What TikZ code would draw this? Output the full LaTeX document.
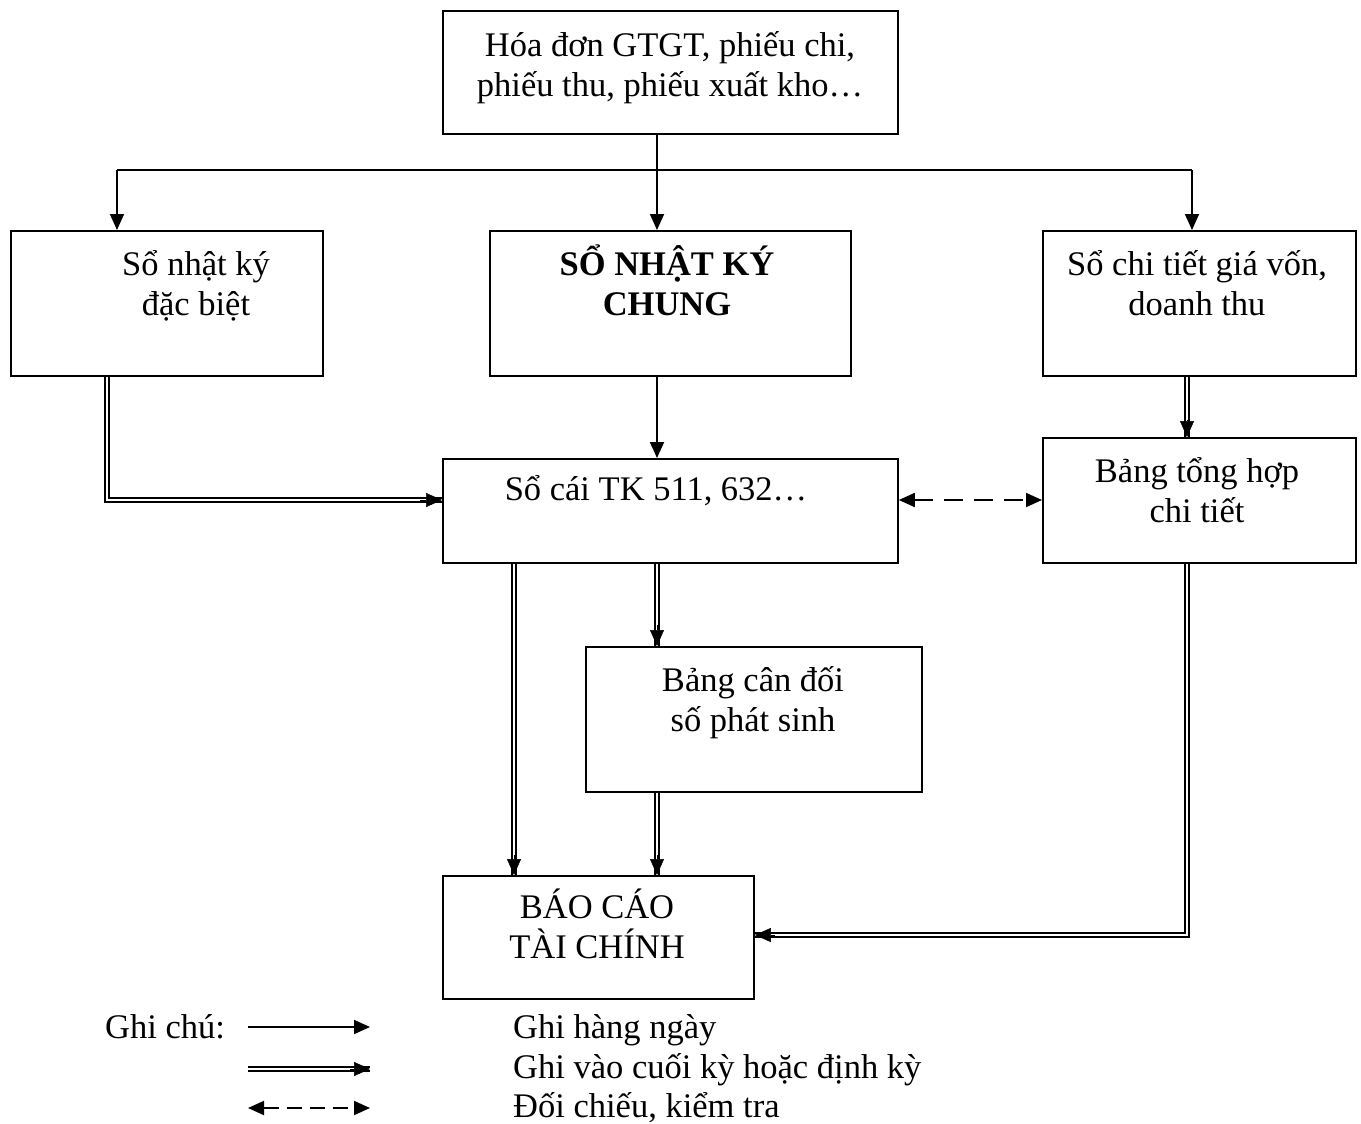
\documentclass[tikz,border=0pt]{standalone}
\usepackage{fontspec}
\setmainfont{Liberation Serif}
\usetikzlibrary{arrows.meta}
\begin{document}
\begin{tikzpicture}[x=1pt,y=-1pt,
  box/.style={draw, line width=1.8pt, inner sep=0pt, anchor=north west},
  txt/.style={anchor=base, align=center, inner sep=0pt,
    font=\fontsize{34.5}{40}\selectfont},
  sgl/.style={line width=1.8pt},
  arr/.style={line width=1.8pt, -{Triangle[length=16pt,width=14pt]}},
  tip/.style={line width=0.5pt, -{Triangle[length=16pt,width=14pt]}},
  dbl/.style={double, double distance=2pt, line width=1.8pt},
  dsh/.style={line width=1.8pt, dash pattern=on 19pt off 11pt,
    {Triangle[length=16pt,width=14pt]}-{Triangle[length=16pt,width=14pt]}}]
\useasboundingbox (0,0) rectangle (1361,1124);

% boxes
\node[box, minimum width=455pt, minimum height=123pt] (src) at (442,10) {};
\node[box, minimum width=312pt, minimum height=145pt] (nkdb) at (10,230) {};
\node[box, minimum width=361pt, minimum height=145pt] (nkc) at (489,230) {};
\node[box, minimum width=313pt, minimum height=145pt] (sct) at (1042,230) {};
\node[box, minimum width=455pt, minimum height=104pt] (sc) at (442,458) {};
\node[box, minimum width=313pt, minimum height=125pt] (bth) at (1042,437) {};
\node[box, minimum width=336pt, minimum height=145pt] (bcd) at (585,646) {};
\node[box, minimum width=311pt, minimum height=123pt] (bctc) at (442,875) {};

% box texts (base anchor sits on the last line)
\node[txt] (tsrc) at (670,96) {Hóa đơn GTGT, phiếu chi,\\phiếu thu, phiếu xuất kho…};
\node[txt] (tnkdb) at (196,315) {Sổ nhật ký\\đặc biệt};
\node[txt, font=\fontsize{34.5}{40}\selectfont\bfseries] (tnkc) at (667,315) {SỔ NHẬT KÝ\\CHUNG};
\node[txt] (tsct) at (1197,315) {Sổ chi tiết giá vốn,\\doanh thu};
\node[txt] (tsc) at (656,500) {Sổ cái TK 511, 632…};
\node[txt] (tbth) at (1197,522) {Bảng tổng hợp\\chi tiết};
\node[txt] (tbcd) at (753,731) {Bảng cân đối\\số phát sinh};
\node[txt] (tbctc) at (597,958) {BÁO CÁO\\TÀI CHÍNH};

% daily postings from source documents
\coordinate (jl) at (117,170);
\coordinate (jr) at (1192,170);
\draw[sgl] (jl) -- (jr);
\draw[arr] (src.south -| 657,0) -- (nkc.north -| 657,0);
\draw[arr] (jl) -- (jl |- nkdb.north);
\draw[arr] (jr) -- (jr |- sct.north);
\draw[arr] (nkc.south -| 657,0) -- (sc.north -| 657,0);

% period-end postings
\coordinate (l1) at (107,500);
\draw[dbl] (nkdb.south -| l1) -- (l1) -- (sc.west |- l1);
\coordinate (l1t) at (420,500);
\draw[tip] (l1t) -- (sc.west |- l1);

\coordinate (r1) at (1187,420);
\draw[dbl] (sct.south -| r1) -- (bth.north -| r1);
\draw[tip] (r1) -- (bth.north -| r1);

\coordinate (c1) at (514,855);
\draw[dbl] (sc.south -| c1) -- (bctc.north -| c1);
\draw[tip] (c1) -- (bctc.north -| c1);

\coordinate (c2) at (657,625);
\draw[dbl] (sc.south -| c2) -- (bcd.north -| c2);
\draw[tip] (c2) -- (bcd.north -| c2);

\coordinate (c3) at (657,855);
\draw[dbl] (bcd.south -| c3) -- (bctc.north -| c3);
\draw[tip] (c3) -- (bctc.north -| c3);

\coordinate (r2) at (1187,935);
\coordinate (r2t) at (775,935);
\draw[dbl] (bth.south -| r2) -- (r2) -- (bctc.east |- r2);
\draw[tip] (r2t) -- (bctc.east |- r2);

% cross-check
\draw[dsh] (sc.east |- 0,500) -- (bth.west |- 0,500);

% legend
\node[txt, anchor=base west] (gc) at (105,1038) {Ghi chú:};
\coordinate (a1) at (248,1027);
\coordinate (b1) at (370,1027);
\draw[arr] (a1) -- (b1);
\coordinate (a2) at (248,1069);
\coordinate (b2) at (370,1069);
\coordinate (b2t) at (350,1069);
\draw[dbl] (a2) -- (b2);
\draw[tip] (b2t) -- (b2);
\coordinate (a3) at (248,1108);
\coordinate (b3) at (370,1108);
\draw[dsh, dash pattern=on 15pt off 8pt] (a3) -- (b3);
\node[txt, anchor=base west] (g1) at (513,1038) {Ghi hàng ngày};
\node[txt, anchor=base west] (g2) at (513,1078) {Ghi vào cuối kỳ hoặc định kỳ};
\node[txt, anchor=base west] (g3) at (513,1117) {Đối chiếu, kiểm tra};
\end{tikzpicture}
\end{document}
